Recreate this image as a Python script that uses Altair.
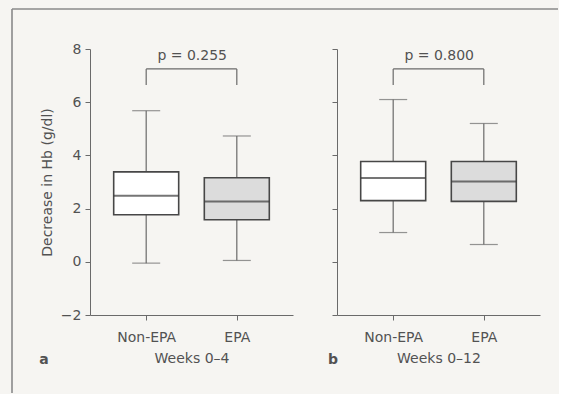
import altair as alt
import pandas as pd

groups = ["Non-EPA", "EPA"]

# Panel a: Weeks 0-4
a_min = [-0.05, 0.05]
a_q1 = [1.77, 1.58]
a_med = [2.48, 2.27]
a_q3 = [3.38, 3.16]
a_max = [5.68, 4.73]

# Panel b: Weeks 0-12
b_min = [1.10, 0.65]
b_q1 = [2.30, 2.27]
b_med = [3.15, 3.02]
b_q3 = [3.77, 3.77]
b_max = [6.10, 5.20]

p_labels = ["p = 0.255", "p = 0.800"]
x_titles = ["Weeks 0\u20134", "Weeks 0\u201312"]
panel_letters = ["a", "b"]
bracket_top = 7.25
bracket_low = 6.65
p_label_y = 7.72
y_ticks = [-2, 0, 2, 4, 6, 8]

FONT = "DejaVu Sans"
FS = 14
INK = "#525252"
AX = "#6a6a6a"
W, H = 203, 266
GAP = 44


def panel(mins, q1, med, q3, mx, plabel, xtitle, letter, first):
    df = pd.DataFrame({"g": groups, "lo": mins, "q1": q1, "med": med, "q3": q3, "hi": mx,
                       "fill": ["#ffffff", "#dcdcdc"]})
    xs = alt.Scale(type="point", domain=groups, padding=0.62)
    ys = alt.Scale(domain=[-2, 8], nice=False, zero=False)
    yaxis = alt.Axis(values=y_ticks, grid=False, tickSize=5, labelPadding=4,
                     labelFontSize=FS, labelColor=INK, labelFont=FONT,
                     domainColor=AX, tickColor=AX, title="Decrease in Hb (g/dl)" if first else None,
                     titleFont=FONT, titleFontSize=FS, titleFontWeight="normal", titleColor=INK,
                     titlePadding=6, labels=first)
    xaxis = alt.Axis(title=xtitle, tickSize=5, labelPadding=10, labelAngle=0,
                     labelFontSize=FS, labelColor=INK, labelFont=FONT,
                     domainColor=AX, tickColor=AX, titleFont=FONT, titleFontSize=FS,
                     titleFontWeight="normal", titleColor=INK, titlePadding=7)
    base = alt.Chart(df)
    x = alt.X("g:N", scale=xs, axis=xaxis, sort=groups)
    whisk_lo = base.mark_rule(color=AX, strokeWidth=1.2).encode(
        x=x, y=alt.Y("lo:Q", scale=ys, axis=yaxis), y2="q1:Q")
    whisk_hi = base.mark_rule(color=AX, strokeWidth=1.2).encode(
        x=x, y=alt.Y("q3:Q", scale=ys), y2="hi:Q")
    cap_lo = base.mark_tick(color=AX, size=28, thickness=1.2).encode(x=x, y=alt.Y("lo:Q", scale=ys))
    cap_hi = base.mark_tick(color=AX, size=28, thickness=1.2).encode(x=x, y=alt.Y("hi:Q", scale=ys))
    box = base.mark_bar(size=65, stroke="#474747", strokeWidth=1.6).encode(
        x=x, y=alt.Y("q1:Q", scale=ys), y2="q3:Q",
        fill=alt.Fill("fill:N", scale=None))
    median = base.mark_tick(color="#3a3a3a", size=65, thickness=2).encode(
        x=x, y=alt.Y("med:Q", scale=ys))

    br = pd.DataFrame({"g": [groups[0]], "g2": [groups[1]], "y": [bracket_top],
                       "ylo": [bracket_low], "lab": [plabel], "ly": [p_label_y]})
    bracket_h = alt.Chart(br).mark_rule(color=AX, strokeWidth=1.2).encode(
        x=alt.X("g:N", scale=xs), x2="g2:N", y=alt.Y("y:Q", scale=ys))
    brv = pd.DataFrame({"g": groups, "y": [bracket_top] * 2, "ylo": [bracket_low] * 2})
    bracket_v = alt.Chart(brv).mark_rule(color=AX, strokeWidth=1.2).encode(
        x=alt.X("g:N", scale=xs), y=alt.Y("ylo:Q", scale=ys), y2="y:Q")
    ptext = alt.Chart(br).mark_text(font=FONT, fontSize=FS, color=INK, dx=46, align="center").encode(
        x=alt.X("g:N", scale=xs), y=alt.Y("ly:Q", scale=ys), text="lab:N")

    letter_df = pd.DataFrame({"t": [letter]})
    letter_mark = alt.Chart(letter_df).mark_text(
        font=FONT, fontSize=FS, fontWeight="bold", color=INK, align="center").encode(
        x=alt.value(-46 if first else -4), y=alt.value(H + 45), text="t:N")

    layers = [whisk_lo, whisk_hi, cap_lo, cap_hi, box, median, bracket_h, bracket_v, ptext, letter_mark]
    if first:
        frame_left = alt.Chart(letter_df).mark_rule(color="#8a8a8a", strokeWidth=1.6).encode(
            x=alt.value(-78), y=alt.value(-40), y2=alt.value(H + 78))
        frame_top = alt.Chart(letter_df).mark_rule(color="#8a8a8a", strokeWidth=1.6).encode(
            x=alt.value(-78), x2=alt.value(W + GAP + W + 18), y=alt.value(-40))
        layers = [frame_left, frame_top] + layers
    return alt.layer(*layers).properties(width=W, height=H)


pa = panel(a_min, a_q1, a_med, a_q3, a_max, p_labels[0], x_titles[0], panel_letters[0], True)
pb = panel(b_min, b_q1, b_med, b_q3, b_max, p_labels[1], x_titles[1], panel_letters[1], False)

chart = alt.hconcat(pa, pb, spacing=GAP, bounds="flush").properties(
    padding={"left": 11, "top": 8, "right": 0, "bottom": 0},
    background="#f6f5f2",
).configure_view(stroke=None)

chart.save("out.html", embed_options={"renderer": "svg", "actions": False})
